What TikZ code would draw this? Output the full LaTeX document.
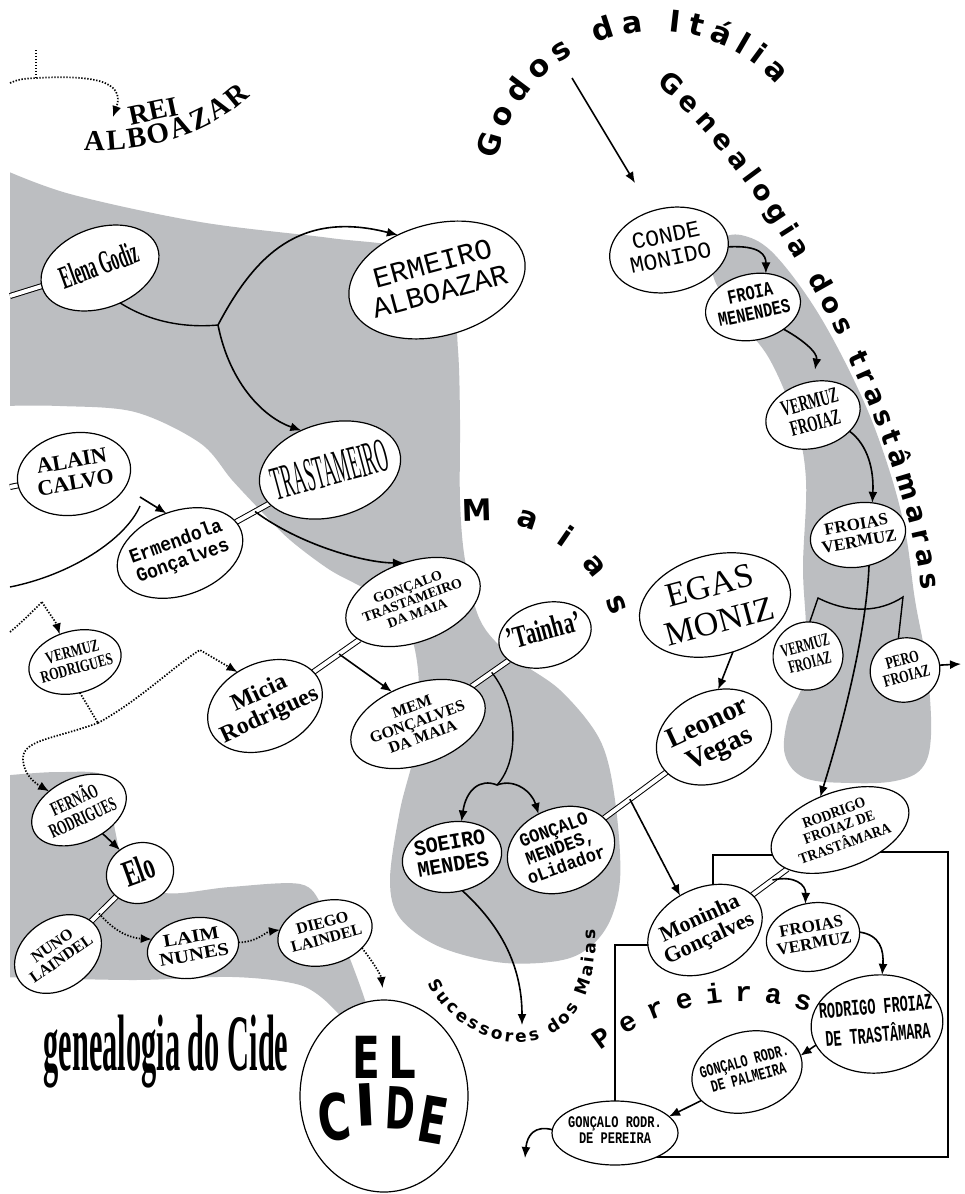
\documentclass[tikz,border=0pt]{standalone}
\usepackage{fontspec}
\setmainfont{Liberation Serif}
\newfontfamily\mono{Liberation Mono}
\newfontfamily\heavy{DejaVu Sans}
\usetikzlibrary{shapes.geometric,arrows.meta,decorations.text,calc}
\pgfdeclarelayer{greyl}
\pgfdeclarelayer{bg}
\pgfsetlayers{greyl,bg,main}
\definecolor{greyc}{RGB}{188,190,193}
\newcommand\fz[1]{\fontsize{#1}{#1}\selectfont}
\newcommand\sqz[3]{\makebox[0pt]{\smash{\raisebox{-.25em}{\scalebox{#1}[#2]{\begin{tabular}{@{}c@{}}#3\end{tabular}}}}}}
\newcommand\godosf{\heavy\bfseries\fontsize{30}{30}\selectfont}
\newcommand\genf{\heavy\bfseries\fontsize{27}{27}\selectfont}
\newcommand\maiasf{\heavy\bfseries\fontsize{30}{30}\selectfont}
\newcommand\sucf{\heavy\bfseries\fontsize{17}{17}\selectfont}
\newcommand\perf{\mono\bfseries\fontsize{28}{28}\selectfont}
\newcommand\albf{\bfseries\fontsize{29}{29}\selectfont}
\begin{document}
\begin{tikzpicture}[x=1pt,y=-1pt,
  pers/.style={ellipse, draw, fill=white, line width=1.2pt, inner sep=0pt, outer sep=0pt},
  sz/.style 2 args={minimum width=#1pt, minimum height=#2pt},
  arr/.style={-{Latex[length=11pt,width=9pt]}},
  con/.style={line width=1.6pt, arr},
  pline/.style={line width=1.4pt},
  dotl/.style={line width=1.7pt, dash pattern=on 1.4pt off 1.6pt},
  marr/.style={double=white, double distance=4pt, line width=1pt},
  boxl/.style={line width=1.2pt}]
\useasboundingbox (0,0) rectangle (965,1194);

% ---------- grey regions ----------
\begin{pgfonlayer}{greyl}
\fill[white] (0,0) rectangle (965,1194);
\begin{scope}
\clip (10,0) rectangle (965,1194);
\fill[greyc] (-30,160) -- plot[smooth, tension=0.55] coordinates {(0,168) (70,194) (200,222) (330,238) (410,250) (450,290) (458,350) (460,420) (460,500) (465,560) (480,620) (510,655) (560,690) (600,740) (615,800) (620,880) (605,930) (570,958) (505,963) (440,947) (400,918) (390,880) (400,810) (417,740) (418,670) (405,622) (370,592) (330,570) (290,540) (262,512) (232,480) (200,443) (135,412) (60,406) (0,406)} -- (-30,406) -- cycle;
\fill[greyc] (-30,777) -- plot[smooth, tension=0.55] coordinates {(0,776) (60,772) (108,778) (115,830) (128,872) (165,893) (230,887) (300,884) (322,905) (342,940) (358,980) (370,1015)} -- (340,1015) -- plot[smooth, tension=0.55] coordinates {(330,1005) (300,985) (233,977) (133,980) (0,977)} -- (-30,977) -- cycle;
\fill[greyc] plot[smooth cycle, tension=0.6] coordinates {(722,240) (745,236) (775,255) (818,313) (860,393) (887,463) (905,530) (915,600) (927,667) (931,735) (922,768) (895,781) (850,783) (805,778) (785,755) (788,718) (803,683) (806,630) (803,567) (806,480) (795,420) (770,360) (740,320) (713,275)};
\end{scope}
\end{pgfonlayer}

% ---------- coordinates ----------
\coordinate (r1) at (36,50);
\coordinate (r2) at (36,78);
\coordinate (rL) at (10,83);
\coordinate (rTip) at (113,117);
\coordinate (eL) at (10,296);
\coordinate (J1) at (218,325);
\coordinate (gA) at (572,78);
\coordinate (gB) at (635,183);
\coordinate (pR) at (961,664);
\coordinate (J2) at (497,785);
\coordinate (sucA) at (522,1025);
\coordinate (eL2) at (10,587);
\coordinate (cE1) at (140,506);
\coordinate (cE2) at (140,497);
\coordinate (aL) at (10,487);
\coordinate (d1) at (10,632);
\coordinate (d2) at (42,602);
\coordinate (J3) at (98,723);
\coordinate (cM) at (200,650);
\coordinate (cF) at (23,760);
\coordinate (pL) at (525,1158);
\coordinate (mnA) at (670,945);
\coordinate (mnB) at (713,910);
\coordinate (rfA) at (800,855);
\coordinate (rfB) at (860,852);
\coordinate (bxC) at (948,1157);
\coordinate (prA) at (640,1157);

% ---------- persons ----------
\node[pers, sz={122}{80}, rotate=20, font=\bfseries\fz{31}] (elena) at (100,268) {\sqz{0.5}{1.05}{Elena Godiz}};
\node[pers, sz={180}{112}, rotate=15, font=\mono\fz{29}] (ermeiro) at (437,280) {\sqz{1}{1}{ERMEIRO\\ALBOAZAR}};
\node[pers, sz={120}{84}, rotate=12, font=\mono\fz{23}] (conde) at (669,250) {\sqz{1}{1}{CONDE\\MONIDO}};
\node[pers, sz={96}{66}, rotate=12, font=\mono\bfseries\fz{16}] (froia) at (753,307) {\sqz{0.95}{1.25}{FROIA\\MENENDES}};
\node[pers, sz={96}{66}, rotate=15, font=\bfseries\fz{22}] (vfz1) at (813,415) {\sqz{0.6}{1}{VERMUZ\\FROIAZ}};
\node[pers, sz={96}{64}, rotate=10, font=\bfseries\fz{17}] (fvz1) at (858,535) {\sqz{1}{1}{FROIAS\\VERMUZ}};
\node[pers, sz={70}{68}, rotate=15, font=\bfseries\fz{18}] (vfz2) at (808,656) {\sqz{0.62}{1}{VERMUZ\\FROIAZ}};
\node[pers, sz={70}{64}, rotate=15, font=\bfseries\fz{17}] (pero) at (905,670) {\sqz{0.72}{1}{PERO\\FROIAZ}};
\node[pers, sz={144}{76}, rotate=20, font=\bfseries\fz{15}] (rft1) at (840,830) {\sqz{0.9}{1}{RODRIGO\\FROIAZ DE\\TRASTÂMARA}};
\node[pers, sz={154}{100}, rotate=15, font=\fontsize{34}{37}\selectfont] (egas) at (715,605) {\sqz{1}{1}{EGAS\\MONIZ}};
\node[pers, sz={120}{90}, rotate=25, font=\bfseries\fz{28}] (leonor) at (714,737) {\sqz{1}{1}{Leonor\\Vegas}};
\node[pers, sz={110}{84}, rotate=20, font=\mono\bfseries\fz{17}] (gmendes) at (561,850) {\sqz{1}{1.1}{GONÇALO\\MENDES,\\oLidador}};
\node[pers, sz={100}{70}, rotate=10, font=\mono\bfseries\fz{20}] (soeiro) at (452,857) {\sqz{1}{1.1}{SOEIRO\\MENDES}};
\node[pers, sz={94}{64}, rotate=15, font=\bfseries\fz{26}] (tainha) at (545,635) {\sqz{0.8}{1.2}{'Tainha'}};
\node[pers, sz={140}{80}, rotate=20, font=\bfseries\fz{16}] (mem) at (418,724) {\sqz{1}{1}{MEM\\GONÇALVES\\DA MAIA}};
\node[pers, sz={140}{80}, rotate=20, font=\bfseries\fz{14}] (gtm) at (413,602) {\sqz{1}{1}{GONÇALO\\TRASTAMEIRO\\DA MAIA}};
\node[pers, sz={120}{86}, rotate=25, font=\bfseries\fz{24}] (micia) at (265,706) {\sqz{1}{1}{Micia\\Rodrigues}};
\node[pers, sz={144}{94}, rotate=15, font=\fz{48}] (trast) at (330,470) {\sqz{0.35}{1}{TRASTAMEIRO}};
\node[pers, sz={130}{84}, rotate=20, font=\mono\bfseries\fz{18}] (ermend) at (180,553) {\sqz{1}{1.1}{Ermendola\\Gonçalves}};
\node[pers, sz={114}{82}, rotate=10, font=\bfseries\fz{22}] (alain) at (74,474) {\sqz{1}{1}{ALAIN\\CALVO}};
\node[pers, sz={94}{62}, rotate=15, font=\bfseries\fz{17}] (vrod) at (75,662) {\sqz{0.72}{1}{VERMUZ\\RODRIGUES}};
\node[pers, sz={100}{64}, rotate=25, font=\bfseries\fz{18}] (fernao) at (79,810) {\sqz{0.66}{1.1}{FERNÃO\\RODRIGUES}};
\node[pers, sz={68}{60}, rotate=20, font=\bfseries\fz{34}] (elo) at (140,873) {\sqz{0.65}{1.1}{Elo}};
\node[pers, sz={94}{70}, rotate=35, font=\bfseries\fz{16}] (nuno) at (58,954) {\sqz{1}{1}{NUNO\\LAINDEL}};
\node[pers, sz={92}{60}, rotate=10, font=\bfseries\fz{18}] (laim) at (193,948) {\sqz{1.15}{1}{LAIM\\NUNES}};
\node[pers, sz={96}{64}, rotate=15, font=\bfseries\fz{16}] (diego) at (325,933) {\sqz{1}{1}{DIEGO\\LAINDEL}};
\node[pers, sz={168}{192}] (cide) at (384,1096) {};
\node[pers, sz={120}{84}, rotate=25, font=\bfseries\fz{22}] (moninha) at (705,930) {\sqz{1}{1}{Moninha\\Gonçalves}};
\node[pers, sz={94}{68}, rotate=10, font=\bfseries\fz{17}] (fvz2) at (813,937) {\sqz{1}{1}{FROIAS\\VERMUZ}};
\node[pers, sz={132}{98}, rotate=5, font=\mono\bfseries\fontsize{15}{19}\selectfont] (rft2) at (877,1024) {\sqz{0.9}{1.5}{RODRIGO FROIAZ\\DE TRASTÂMARA}};
\node[pers, sz={112}{80}, rotate=15, font=\mono\bfseries\fz{13}] (palm) at (747,1072) {\sqz{0.9}{1.3}{GONÇALO RODR.\\DE PALMEIRA}};
\node[pers, sz={126}{64}, font=\mono\bfseries\fz{12}] (pereira) at (615,1133) {\sqz{1}{1.35}{GONÇALO RODR.\\DE PEREIRA}};

% EL CIDE letters
\node[font=\heavy\bfseries\fz{58}] (elE) at (366,1057) {\scalebox{0.7}[1]{E}};
\node[font=\heavy\bfseries\fz{58}] (elL) at (402,1057) {\scalebox{0.75}[1]{L}};
\node[font=\heavy\bfseries\fz{58}, rotate=8] (ciC) at (334,1117) {\scalebox{0.75}[1.1]{C}};
\node[font=\heavy\bfseries\fz{58}, rotate=3] (ciI) at (366,1105) {\scalebox{0.95}[1]{I}};
\node[font=\heavy\bfseries\fz{58}, rotate=-3] (ciD) at (401,1108) {\scalebox{0.62}[1]{D}};
\node[font=\heavy\bfseries\fz{58}, rotate=-10] (ciE) at (433,1120) {\scalebox{0.7}[1.1]{E}};

% free texts
\node[font=\bfseries\fz{28}, rotate=12] (rei) at (153,111) {REI};
\node[font=\bfseries\fz{80}, anchor=base] (gdc) at (166,1070) {\scalebox{0.38}[1]{genealogia do Cide}};

\path[decorate, decoration={text along path, text={|\albf|ALBOAZAR}, text align=fit to path}]
  (84,150) .. controls (150,153) and (212,132) .. (250,96);
\path[decorate, decoration={text along path, text={|\godosf|Godos da Itália}, text align=fit to path}]
  (496.6,160.1) .. controls (509.3,100.1) and (554.6,52.5) .. (613.8,36.6) .. controls (673.0,20.7) and (736.1,39.3) .. (777.1,84.9);
\path[decorate, decoration={text along path, text={|\genf|Genealogia dos trastâmaras}, text align=fit to path}]
  (656,84) .. controls (775,185) and (900,420) .. (922,590);
\path[decorate, decoration={text along path, text={|\maiasf|Maias}, text align=fit to path}]
  (462.9,522.3) .. controls (528.8,513.0) and (591.8,552.5) .. (612.3,615.7);
\path[decorate, decoration={text along path, text={|\sucf|Sucessores dos Maias}, text align=fit to path}]
  (428,983) .. controls (468,1062) and (598,1078) .. (596,930);
\path[decorate, decoration={text along path, text={|\perf|Pereiras}, text align=fit to path}]
  (601,1050.5) .. controls (659.9,1004.5) and (737.6,990.2) .. (809,1012);

% ---------- connectors ----------
\begin{pgfonlayer}{bg}
\draw[dotl] (r1) -- (r2);
\draw[dotl, arr] (rL) .. controls (20,79) .. (r2) .. controls (90,75) and (126,80) .. (rTip);
\draw[marr] (eL) -- (elena);
\draw[pline] (elena.-80) .. controls (150,322) and (185,328) .. (J1);
\draw[con] (J1) .. controls (255,255) and (300,210) .. (ermeiro.116);
\draw[con] (J1) .. controls (230,385) and (265,418) .. (trast.111);
\draw[con] (gA) -- (gB);
\draw[con] (conde.-9) .. controls (760,245) and (766,255) .. (froia.57);
\draw[con, shorten >=12pt] (froia.-48) .. controls (800,338) and (818,352) .. (vfz1.75);
\draw[con] (vfz1.-39) .. controls (868,445) and (874,470) .. (fvz1.56);
\draw[con] (fvz1.-80) .. controls (866,640) and (838,740) .. (rft1.101);
\draw[pline] (vfz2.72) -- (818,598) .. controls (850,614) and (880,612) .. (903,597) -- (pero.87);
\draw[con] (pero.-7) -- (pR);
\draw[con] (egas.-84) -- (leonor.60);
\draw[marr] (leonor) -- (gmendes);
\coordinate (m3) at ($(leonor)!0.55!(gmendes)$);
\draw[con] (m3) -- (moninha.101);
\draw[marr] (tainha) -- (mem);
\coordinate (m4) at ($(tainha)!0.42!(mem)$);
\draw[pline] (m4) .. controls (518,705) and (520,760) .. (J2);
\draw[con] (J2) .. controls (480,778) and (466,790) .. (soeiro.65);
\draw[con] (J2) .. controls (515,778) and (532,792) .. (gmendes.102);
\draw[con] (soeiro.-83) .. controls (500,925) and (522,965) .. (sucA);
\draw[marr] (micia) -- (gtm);
\coordinate (m5) at ($(micia)!0.5!(gtm)$);
\draw[con] (m5) -- (mem.109);
\draw[marr] (ermend) -- (trast);
\coordinate (m6) at ($(ermend)!0.5!(trast)$);
\draw[con] (m6) .. controls (300,545) and (365,563) .. (gtm.83);
\draw[pline] (eL2) .. controls (70,575) and (125,540) .. (cE1);
\draw[con] (cE2) -- (ermend.89);
\draw[marr] (aL) -- (alain);
\draw[dotl] (d1) .. controls (22,622) and (32,612) .. (d2);
\draw[dotl, arr] (d2) .. controls (48,612) and (56,622) .. (vrod.104);
\draw[dotl] (vrod.-96) -- (J3);
\draw[dotl, arr] (J3) .. controls (140,700) and (175,665) .. (cM) -- (micia.104);
\draw[dotl, arr] (J3) .. controls (50,740) and (22,740) .. (cF) .. controls (24,775) and (35,783) .. (fernao.123);
\draw[con] (fernao.-70) -- (elo.111);
\draw[marr] (elo) -- (nuno);
\coordinate (m7) at ($(elo)!0.5!(nuno)$);
\draw[dotl, arr] (m7) .. controls (115,932) and (130,938) .. (laim.158);
\draw[dotl, arr] (laim.-3) .. controls (258,942) and (265,932) .. (diego.161);
\draw[dotl, arr, shorten >=12pt] (diego.-37) .. controls (373,962) and (381,975) .. (cide.90);
\draw[marr] (moninha) -- (rft1);
\coordinate (m8) at ($(moninha)!0.5!(rft1)$);
\draw[con] (m8) .. controls (795,875) and (806,885) .. (fvz2.93);
\draw[con] (fvz2.-4) .. controls (880,935) and (884,950) .. (rft2.79);
\draw[con] (rft2.194) -- (palm.2);
\draw[con] (palm.197) -- (pereira.17);
\draw[con] (pereira.177) .. controls (535,1125) and (527,1135) .. (pL);
\draw[boxl] (mnA) -| (pereira.center);
\draw[boxl] (mnB) |- (rfA);
\draw[boxl] (rfB) -| (bxC) -- (prA);
\end{pgfonlayer}
\end{tikzpicture}
\end{document}
